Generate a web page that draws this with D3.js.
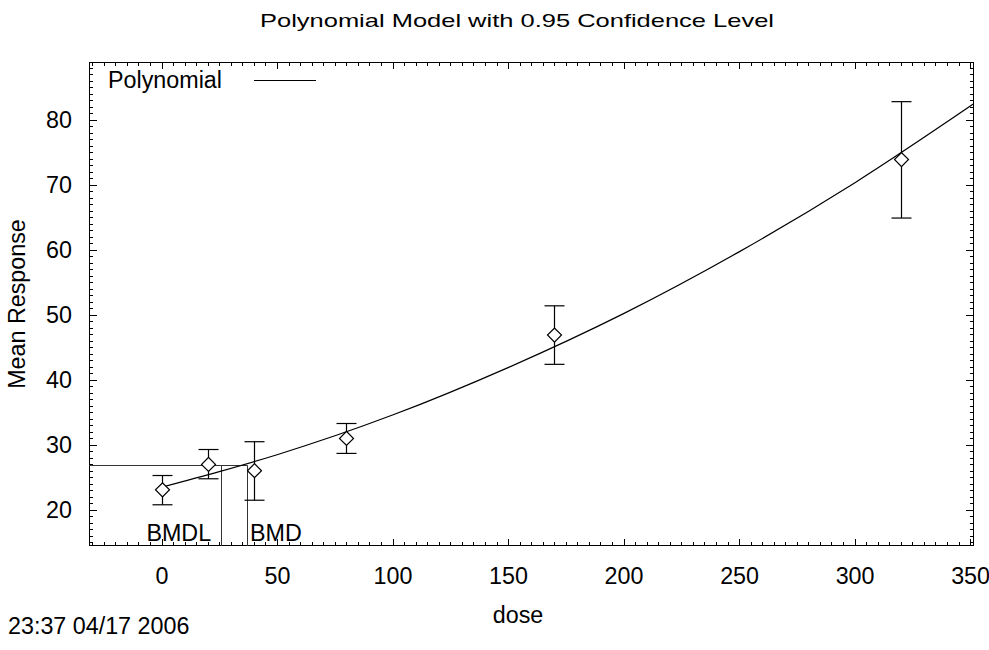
<!DOCTYPE html>
<html>
<head>
<meta charset="utf-8">
<script src="https://cdn.jsdelivr.net/npm/d3@7"></script>
<style>
  html, body { margin: 0; padding: 0; background: #fff; }
  svg text { font-family: "Liberation Sans", Arial, sans-serif; fill: #000; }
</style>
</head>
<body>
<svg id="chart" width="989" height="650"></svg>
<script>
// ---- data ----
const doses = [0, 20, 40, 80, 170, 320];
const means = [23.1, 27.0, 26.05, 31.0, 46.9, 73.9];
const lowerCI = [20.8, 24.8, 21.5, 28.7, 42.4, 64.9];
const upperCI = [25.3, 29.3, 30.5, 33.3, 51.4, 82.8];

// fitted polynomial curve
const curveDose = [0, 25, 50, 100, 150, 200, 250, 300, 351.7];
const curveResp = [23.5, 25.9, 28.5, 34.6, 41.9, 50.2, 59.7, 70.3, 82.5];

const bmrLevel = 26.95;
const bmdl = 25.8;
const bmd = 37.0;

const xTicks = [0, 50, 100, 150, 200, 250, 300, 350];
const yTicks = [20, 30, 40, 50, 60, 70, 80];

const titleText = "Polynomial Model with 0.95 Confidence Level";
const legendLabel = "Polynomial";
const xLabel = "dose";
const yLabel = "Mean Response";
const stamp = "23:37 04/17 2006";

// ---- layout ----
const L = 89, R = 974, T = 62, B = 546;
const FS = 23.3;

const svg = d3.select("#chart");
const x = d3.scaleLinear().domain([-31.4, 351.7]).range([L, R]);
const y = d3.scaleLinear().domain([14.46, 88.9]).range([B, T]);

// frame
svg.append("rect").attr("x", L + 0.5).attr("y", T + 0.5)
  .attr("width", R - L - 1).attr("height", B - T - 1)
  .attr("fill", "none").attr("stroke", "#000").attr("stroke-width", 1);

// minor/major ticks (inward) on all four sides
const xMinor = d3.range(-30, 352, 5);
const yMinor = d3.range(15, 89, 1);
const tickG = svg.append("g").attr("stroke", "#000").attr("stroke-width", 1);
xMinor.forEach(v => {
  const major = v % 50 === 0;
  const len = major ? 7 : 4;
  const px = Math.round(x(v)) + 0.5;
  tickG.append("line").attr("x1", px).attr("x2", px).attr("y1", B).attr("y2", B - len);
  tickG.append("line").attr("x1", px).attr("x2", px).attr("y1", T).attr("y2", T + len);
});
yMinor.forEach(v => {
  const major = v % 10 === 0;
  const len = major ? 8 : 4;
  const py = Math.round(y(v)) + 0.5;
  tickG.append("line").attr("x1", L).attr("x2", L + len).attr("y1", py).attr("y2", py);
  tickG.append("line").attr("x1", R).attr("x2", R - len).attr("y1", py).attr("y2", py);
});

// tick labels
const xAxis = d3.axisBottom(x).tickValues(xTicks).tickSize(0).tickPadding(0);
const gx = svg.append("g").attr("transform", `translate(0,${B + 21})`).call(xAxis);
gx.select(".domain").remove();
gx.selectAll("text").attr("font-size", FS).attr("font-family", "Liberation Sans, Arial, sans-serif").attr("fill", "#000");

const yAxis = d3.axisLeft(y).tickValues(yTicks).tickSize(0).tickPadding(0);
const gy = svg.append("g").attr("transform", `translate(${L - 17},0)`).call(yAxis);
gy.select(".domain").remove();
gy.selectAll("text").attr("font-size", FS).attr("font-family", "Liberation Sans, Arial, sans-serif").attr("fill", "#000");

// clip
svg.append("clipPath").attr("id", "clip").append("rect")
  .attr("x", L).attr("y", T).attr("width", R - L).attr("height", B - T);
const plot = svg.append("g").attr("clip-path", "url(#clip)");

// BMD lines
const bmdG = plot.append("g").attr("stroke", "#333").attr("stroke-width", 1).attr("fill", "none");
const yb = Math.round(y(bmrLevel)) + 0.5;
bmdG.append("line").attr("x1", L).attr("x2", Math.round(x(bmd)) + 0.5).attr("y1", yb).attr("y2", yb);
bmdG.append("line").attr("x1", Math.round(x(bmdl)) + 0.5).attr("x2", Math.round(x(bmdl)) + 0.5).attr("y1", yb).attr("y2", B);
bmdG.append("line").attr("x1", Math.round(x(bmd)) + 0.5).attr("x2", Math.round(x(bmd)) + 0.5).attr("y1", yb).attr("y2", B);

svg.append("text").attr("x", x(bmdl) - 10).attr("y", B - 5).attr("text-anchor", "end")
  .attr("font-size", FS).text("BMDL");
svg.append("text").attr("x", x(bmd) + 3).attr("y", B - 5).attr("text-anchor", "start")
  .attr("font-size", FS).text("BMD");

// fitted curve
const line = d3.line().x(d => x(d[0])).y(d => y(d[1])).curve(d3.curveMonotoneX);
plot.append("path").datum(curveDose.map((d, i) => [d, curveResp[i]]))
  .attr("d", line).attr("fill", "none").attr("stroke", "#000").attr("stroke-width", 1.2);

// error bars
const eb = plot.append("g").attr("stroke", "#000").attr("stroke-width", 1.2);
doses.forEach((d, i) => {
  const px = Math.round(x(d)) + 0.5;
  eb.append("line").attr("x1", px).attr("x2", px).attr("y1", y(lowerCI[i])).attr("y2", y(upperCI[i]));
  eb.append("line").attr("x1", px - 10).attr("x2", px + 10).attr("y1", y(lowerCI[i])).attr("y2", y(lowerCI[i]));
  eb.append("line").attr("x1", px - 10).attr("x2", px + 10).attr("y1", y(upperCI[i])).attr("y2", y(upperCI[i]));
});

// diamonds
const sym = d3.symbol().type(d3.symbolSquare).size(98);
plot.append("g").selectAll("path").data(doses).join("path")
  .attr("d", sym)
  .attr("transform", (d, i) => `translate(${Math.round(x(d)) + 0.5},${y(means[i])}) rotate(45)`)
  .attr("fill", "#fff").attr("stroke", "#000").attr("stroke-width", 1.2);

// legend
svg.append("text").attr("x", 108).attr("y", 88).attr("font-size", FS).text(legendLabel);
svg.append("line").attr("x1", 254).attr("x2", 316).attr("y1", 80.5).attr("y2", 80.5)
  .attr("stroke", "#000").attr("stroke-width", 1);

// titles
svg.append("text").attr("x", 517).attr("y", 27).attr("text-anchor", "middle")
  .attr("font-size", 19).attr("textLength", 514).attr("lengthAdjust", "spacingAndGlyphs").text(titleText);
svg.append("text").attr("x", 518).attr("y", 623).attr("text-anchor", "middle")
  .attr("font-size", FS).text(xLabel);
svg.append("text").attr("transform", "translate(25,304) rotate(-90)").attr("text-anchor", "middle")
  .attr("font-size", FS).text(yLabel);
svg.append("text").attr("x", 8).attr("y", 634).attr("font-size", FS).text(stamp);
</script>
</body>
</html>
